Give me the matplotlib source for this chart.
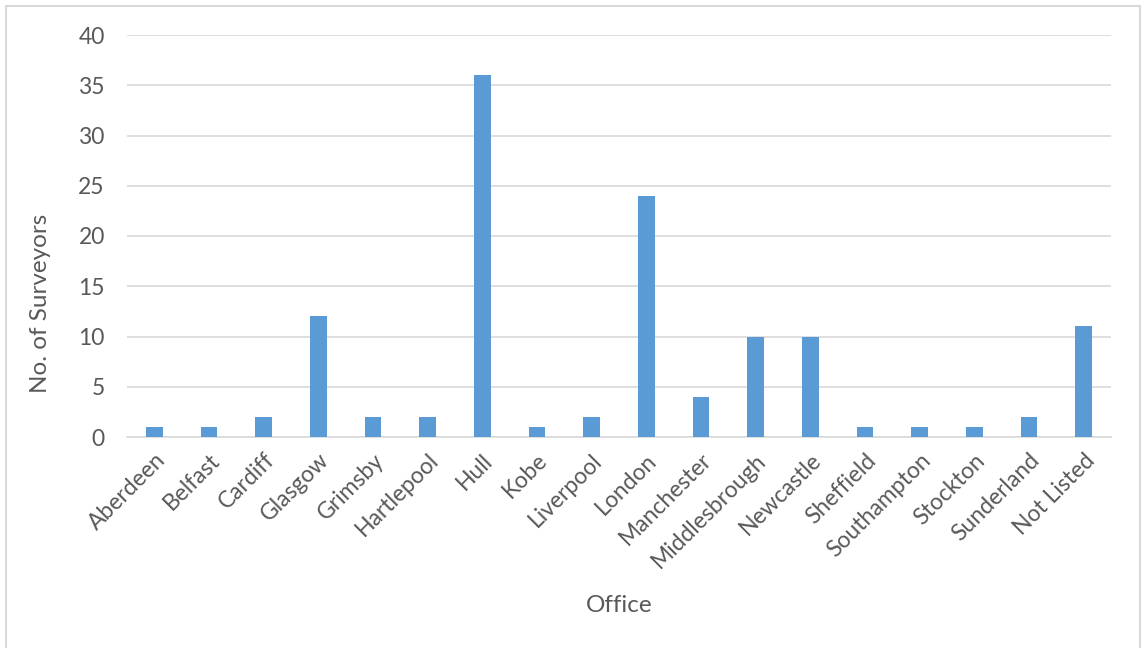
import matplotlib.pyplot as plt
from matplotlib.patches import Rectangle
import numpy as np

offices = ['Aberdeen', 'Belfast', 'Cardiff', 'Glasgow', 'Grimsby', 'Hartlepool',
           'Hull', 'Kobe', 'Liverpool', 'London', 'Manchester', 'Middlesbrough',
           'Newcastle', 'Sheffield', 'Southampton', 'Stockton', 'Sunderland',
           'Not Listed']
surveyors = [1, 1, 2, 12, 2, 2, 36, 1, 2, 24, 4, 10, 10, 1, 1, 1, 2, 11]
yticks = [0, 5, 10, 15, 20, 25, 30, 35, 40]

plt.rcParams['font.family'] = ['Lato', 'DejaVu Sans']
txt = '#595959'
grid = '#d9d9d9'

fig = plt.figure(figsize=(11.41, 6.48), dpi=100)
ax = fig.add_axes([127/1141, 1-437/648, (1111-127)/1141, (437-35)/648])

x = np.arange(len(offices))
ax.bar(x, surveyors, width=0.31, color='#5B9BD5', zorder=3)

ax.set_xlim(-0.5, len(offices)-0.5)
ax.set_ylim(0, 40)
ax.set_yticks(yticks)
ax.set_xticks(x)
ax.set_xticklabels(offices, rotation=45, ha='right', rotation_mode='anchor')
ax.tick_params(length=0, labelsize=16.5, labelcolor=txt)
ax.tick_params(axis='y', pad=16)
ax.tick_params(axis='x', pad=9)
ax.grid(axis='y', color=grid, linewidth=1.2, zorder=0)
for s in ['top', 'right', 'left']:
    ax.spines[s].set_visible(False)
ax.spines['bottom'].set_color(grid)
ax.spines['bottom'].set_linewidth(1.2)

ax.set_xlabel('Office', fontsize=17.5, color=txt)
ax.set_ylabel('No. of Surveyors', fontsize=17.5, color=txt)
ax.xaxis.set_label_coords(0.5, -0.418)
ax.yaxis.set_label_coords(-0.088, 0.333)
ax.xaxis.label.set_va('center')
ax.yaxis.label.set_va('center')

# chart area border
fig.patches.append(Rectangle((6/1141, -0.1), (1140-6)/1141, 1.1-6/648,
                             transform=fig.transFigure, fill=False,
                             edgecolor=grid, linewidth=1.5))

fig.savefig('out.png', dpi=100)
